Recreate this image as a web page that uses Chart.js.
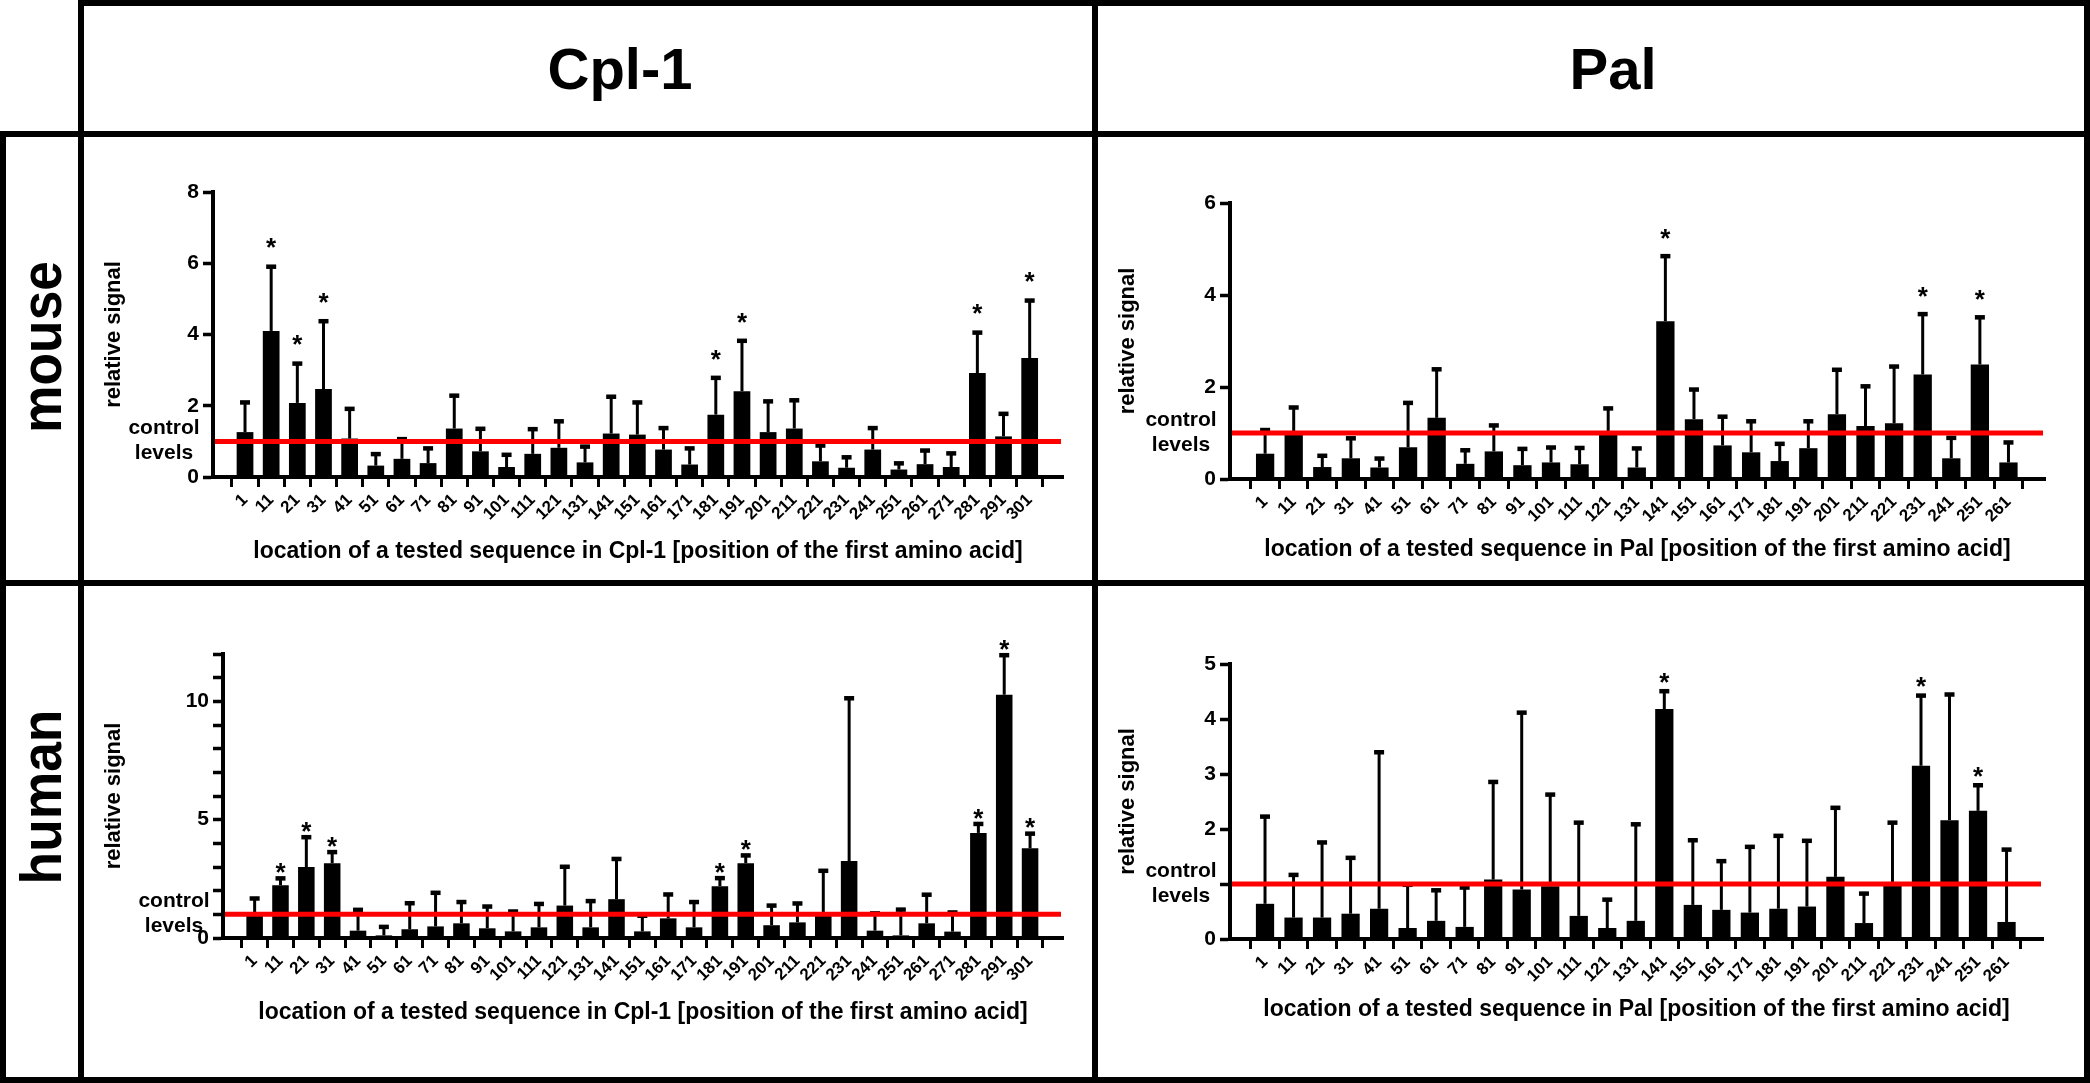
<!DOCTYPE html>
<html>
<head>
<meta charset="utf-8">
<title>Cpl-1 / Pal relative signal</title>
<script src="https://cdn.jsdelivr.net/npm/chart.js@4.4.1/dist/chart.umd.min.js"></script>
<style>
  html, body { margin: 0; padding: 0; background: #fff; }
  body { width: 2090px; height: 1083px; position: relative; overflow: hidden; font-family: 'Liberation Sans', Arial, sans-serif; }
  .ln { position: absolute; background: #000; }
  .hdr { position: absolute; font-weight: bold; font-size: 58px; transform: translate(-50%, -50%); white-space: nowrap; }
  .row { position: absolute; font-weight: bold; font-size: 58px; transform: translate(-50%, -50%) rotate(-90deg) scaleX(0.92); white-space: nowrap; }
  canvas { position: absolute; }
</style>
</head>
<body>
  <div class="ln" style="left:80px;top:0;width:2010px;height:6px"></div>
  <div class="ln" style="left:0;top:131px;width:2090px;height:6px"></div>
  <div class="ln" style="left:0;top:580px;width:2090px;height:6px"></div>
  <div class="ln" style="left:0;top:1077px;width:2090px;height:6px"></div>
  <div class="ln" style="left:0;top:131px;width:6px;height:952px"></div>
  <div class="ln" style="left:78px;top:0;width:6px;height:1083px"></div>
  <div class="ln" style="left:1092px;top:0;width:6px;height:1083px"></div>
  <div class="ln" style="left:2084px;top:0;width:6px;height:1083px"></div>

  <div class="hdr" style="left:620px;top:68px">Cpl-1</div>
  <div class="hdr" style="left:1613px;top:68px">Pal</div>
  <div class="row" style="left:40px;top:347px">mouse</div>
  <div class="row" style="left:40px;top:797px">human</div>

  <canvas id="cplMouse" width="1008" height="443" style="left:84px;top:137px"></canvas>
  <canvas id="palMouse" width="986" height="443" style="left:1098px;top:137px"></canvas>
  <canvas id="cplHuman" width="1008" height="491" style="left:84px;top:586px"></canvas>
  <canvas id="palHuman" width="986" height="491" style="left:1098px;top:586px"></canvas>

<script>
// ---- data ----
const cplPositions = ['1', '11', '21', '31', '41', '51', '61', '71', '81', '91', '101', '111', '121', '131', '141', '151',
    '161', '171', '181', '191', '201', '211', '221', '231', '241', '251', '261', '271', '281', '291', '301'];
const palPositions = ['1', '11', '21', '31', '41', '51', '61', '71', '81', '91', '101', '111', '121', '131', '141', '151',
    '161', '171', '181', '191', '201', '211', '221', '231', '241', '251', '261'];

const cplMouseMean = [1.26, 4.1, 2.08, 2.47, 1.08, 0.32, 0.51, 0.39, 1.36, 0.72, 0.28, 0.65, 0.82, 0.41, 1.22, 1.19,
    0.77, 0.35, 1.75, 2.41, 1.26, 1.36, 0.44, 0.26, 0.77, 0.21, 0.36, 0.28, 2.92, 1.14, 3.34];
const cplMouseErr = [2.1, 5.91, 3.19, 4.38, 1.92, 0.65, 1.07, 0.81, 2.29, 1.36, 0.63, 1.35, 1.57, 0.86, 2.26, 2.1,
    1.38, 0.81, 2.79, 3.83, 2.13, 2.16, 0.89, 0.56, 1.38, 0.39, 0.75, 0.67, 4.06, 1.78, 4.96];
const cplMouseSig = ['11', '21', '31', '181', '191', '281', '301'];

const palMouseMean = [0.55, 1.0, 0.26, 0.45, 0.25, 0.69, 1.33, 0.33, 0.6, 0.3, 0.36, 0.32, 0.98, 0.25, 3.43, 1.3,
    0.73, 0.58, 0.39, 0.67, 1.41, 1.15, 1.21, 2.27, 0.45, 2.49, 0.36];
const palMouseErr = [1.07, 1.56, 0.51, 0.89, 0.45, 1.66, 2.39, 0.63, 1.17, 0.66, 0.69, 0.68, 1.54, 0.67, 4.85, 1.95,
    1.36, 1.26, 0.77, 1.26, 2.38, 2.02, 2.45, 3.59, 0.9, 3.52, 0.8];
const palMouseSig = ['141', '231', '251'];

const cplHumanMean = [1.0, 2.23, 3.0, 3.16, 0.31, 0.11, 0.37, 0.49, 0.62, 0.41, 0.28, 0.45, 1.37, 0.45, 1.64, 0.28,
    0.83, 0.45, 2.19, 3.16, 0.54, 0.66, 1.07, 3.25, 0.31, 0.11, 0.62, 0.27, 4.44, 10.28, 3.79];
const cplHumanErr = [1.68, 2.53, 4.27, 3.64, 1.2, 0.48, 1.48, 1.92, 1.53, 1.34, 1.13, 1.45, 3.02, 1.57, 3.35, 0.95,
    1.85, 1.53, 2.54, 3.5, 1.38, 1.47, 2.85, 10.14, 1.05, 1.21, 1.84, 1.09, 4.83, 11.96, 4.42];
const cplHumanSig = ['11', '21', '31', '181', '191', '281', '291', '301'];

const palHumanMean = [0.64, 0.39, 0.39, 0.46, 0.55, 0.2, 0.33, 0.22, 1.08, 0.9, 0.96, 0.42, 0.2, 0.33, 4.18, 0.62,
    0.53, 0.48, 0.55, 0.59, 1.13, 0.29, 1.01, 3.15, 2.16, 2.33, 0.31];
const palHumanErr = [2.23, 1.17, 1.76, 1.48, 3.4, 0.99, 0.89, 0.94, 2.86, 4.12, 2.63, 2.12, 0.72, 2.09, 4.51, 1.8,
    1.42, 1.68, 1.88, 1.79, 2.39, 0.83, 2.12, 4.43, 4.45, 2.8, 1.63];
const palHumanSig = ['141', '231', '251'];

// y-axis tick marks and the ones that carry a number
const cplMouseYTicks = [0, 2, 4, 6, 8];
const cplMouseYLabels = [0, 2, 4, 6, 8];
const palMouseYTicks = [0, 2, 4, 6];
const palMouseYLabels = [0, 2, 4, 6];
const cplHumanYTicks = [0, 1, 2, 3, 4, 5, 6, 7, 8, 9, 10, 11, 12];
const cplHumanYLabels = [0, 5, 10];
const palHumanYTicks = [0, 1, 2, 3, 4, 5];
const palHumanYLabels = [0, 2, 3, 4, 5];

const controlLevel = 1;
const cplTitle = 'location of a tested sequence in Cpl-1 [position of the first amino acid]';
const palTitle = 'location of a tested sequence in Pal [position of the first amino acid]';

// ---- drawing helpers ----
const FONT = "'Liberation Sans', Arial, sans-serif";

// error bars (upper only), red control line, "control levels" and significance stars
const marksPlugin = {
    id: 'marks',
    afterDatasetsDraw(chart, args, opts) {
        const { ctx, chartArea, scales: { y } } = chart;
        const meta = chart.getDatasetMeta(0);
        ctx.save();
        ctx.strokeStyle = '#000';
        ctx.fillStyle = '#000';
        meta.data.forEach((bar, i) => {
            const ye = y.getPixelForValue(opts.err[i]);
            ctx.lineWidth = 3;
            ctx.beginPath();
            ctx.moveTo(bar.x, bar.y);
            ctx.lineTo(bar.x, ye);
            ctx.stroke();
            ctx.fillRect(bar.x - 5, ye - 2, 10, 4.5);
        });

        const yc = y.getPixelForValue(opts.control);
        ctx.strokeStyle = '#ff0000';
        ctx.lineWidth = 5;
        ctx.beginPath();
        ctx.moveTo(chartArea.left + 2, yc);
        ctx.lineTo(chartArea.right - 2, yc);
        ctx.stroke();

        ctx.fillStyle = '#000';
        ctx.font = 'bold 21px ' + FONT;
        ctx.textAlign = 'center';
        ctx.textBaseline = 'middle';
        ctx.fillText('control', chartArea.left - 49, yc - 13);
        ctx.fillText('levels', chartArea.left - 49, yc + 12);

        ctx.font = 'bold 26px ' + FONT;
        ctx.textBaseline = 'alphabetic';
        opts.labels.forEach((lab, i) => {
            if (!opts.sig.includes(lab)) return;
            const ye = y.getPixelForValue(opts.err[i]);
            ctx.fillText('*', meta.data[i].x, ye - opts.starGap + 15);
        });
        ctx.restore();
    }
};

function drawPanel(id, labels, mean, err, sig, xTitle, yTicks, yLabels, geo) {
    const canvas = document.getElementById(id);
    const boxLeft = parseFloat(canvas.style.left), boxTop = parseFloat(canvas.style.top);
    const boxRight = boxLeft + canvas.width, boxBottom = boxTop + canvas.height;

    new Chart(canvas, {
        type: 'bar',
        data: {
            datasets: [{
                data: mean.map((v, i) => ({ x: i, y: v })),
                backgroundColor: '#000',
                borderWidth: 0,
                barPercentage: 0.64,
                categoryPercentage: 1
            }]
        },
        options: {
            responsive: false,
            animation: false,
            devicePixelRatio: 1,
            layout: { padding: { top: geo.top - boxTop, right: boxRight - geo.right, left: 0, bottom: 0 } },
            plugins: {
                legend: { display: false },
                tooltip: { enabled: false },
                marks: { err, sig, labels, control: controlLevel, starGap: geo.starGap }
            },
            scales: {
                x: {
                    type: 'linear',
                    min: -0.7,
                    max: labels.length - 1 + 0.75,
                    afterBuildTicks: s => { s.ticks = labels.map((l, i) => ({ value: i })); },
                    afterFit: s => { s.height = boxBottom - geo.bottom; s.paddingLeft = 0; s.paddingRight = 0; },
                    ticks: {
                        autoSkip: false, minRotation: 45, maxRotation: 45, padding: 3,
                        color: '#000', font: { family: FONT, size: 17, weight: 'bold' },
                        callback: v => labels[v]
                    },
                    grid: { drawOnChartArea: false, drawTicks: true, tickLength: 10, tickWidth: 3, tickColor: '#000' },
                    border: { display: true, color: '#000', width: 4 },
                    title: {
                        display: true, text: xTitle, color: '#000',
                        font: { family: FONT, size: 23, weight: 'bold' },
                        padding: { top: 0, bottom: boxBottom - geo.titleY - 14 }
                    }
                },
                y: {
                    min: 0,
                    max: yTicks[yTicks.length - 1],
                    afterBuildTicks: s => { s.ticks = yTicks.map(v => ({ value: v })); },
                    afterFit: s => { s.width = geo.left - boxLeft; s.paddingTop = 0; s.paddingBottom = 0; },
                    ticks: {
                        autoSkip: false, padding: 4, color: '#000',
                        font: { family: FONT, size: 21, weight: 'bold' },
                        callback: v => (yLabels.includes(v) ? v : '')
                    },
                    grid: { drawOnChartArea: false, drawTicks: true, tickLength: 10, tickWidth: 3.5, tickColor: '#000' },
                    border: { display: true, color: '#000', width: 4 },
                    title: {
                        display: true, text: 'relative signal', color: '#000',
                        font: { family: FONT, size: 22, weight: 'bold' },
                        padding: { top: 17, bottom: 0 }
                    }
                }
            }
        },
        plugins: [marksPlugin]
    });
}

drawPanel('cplMouse', cplPositions, cplMouseMean, cplMouseErr, cplMouseSig, cplTitle, cplMouseYTicks, cplMouseYLabels,
    { left: 213, top: 192, right: 1063, bottom: 477, titleY: 551, starGap: 25 });
drawPanel('palMouse', palPositions, palMouseMean, palMouseErr, palMouseSig, palTitle, palMouseYTicks, palMouseYLabels,
    { left: 1230, top: 203, right: 2045, bottom: 479, titleY: 549, starGap: 24 });
drawPanel('cplHuman', cplPositions, cplHumanMean, cplHumanErr, cplHumanSig, cplTitle, cplHumanYTicks, cplHumanYLabels,
    { left: 223, top: 654, right: 1063, bottom: 938, titleY: 1012, starGap: 12 });
drawPanel('palHuman', palPositions, palHumanMean, palHumanErr, palHumanSig, palTitle, palHumanYTicks, palHumanYLabels,
    { left: 1230, top: 664, right: 2043, bottom: 939, titleY: 1009, starGap: 15 });
</script>
</body>
</html>
